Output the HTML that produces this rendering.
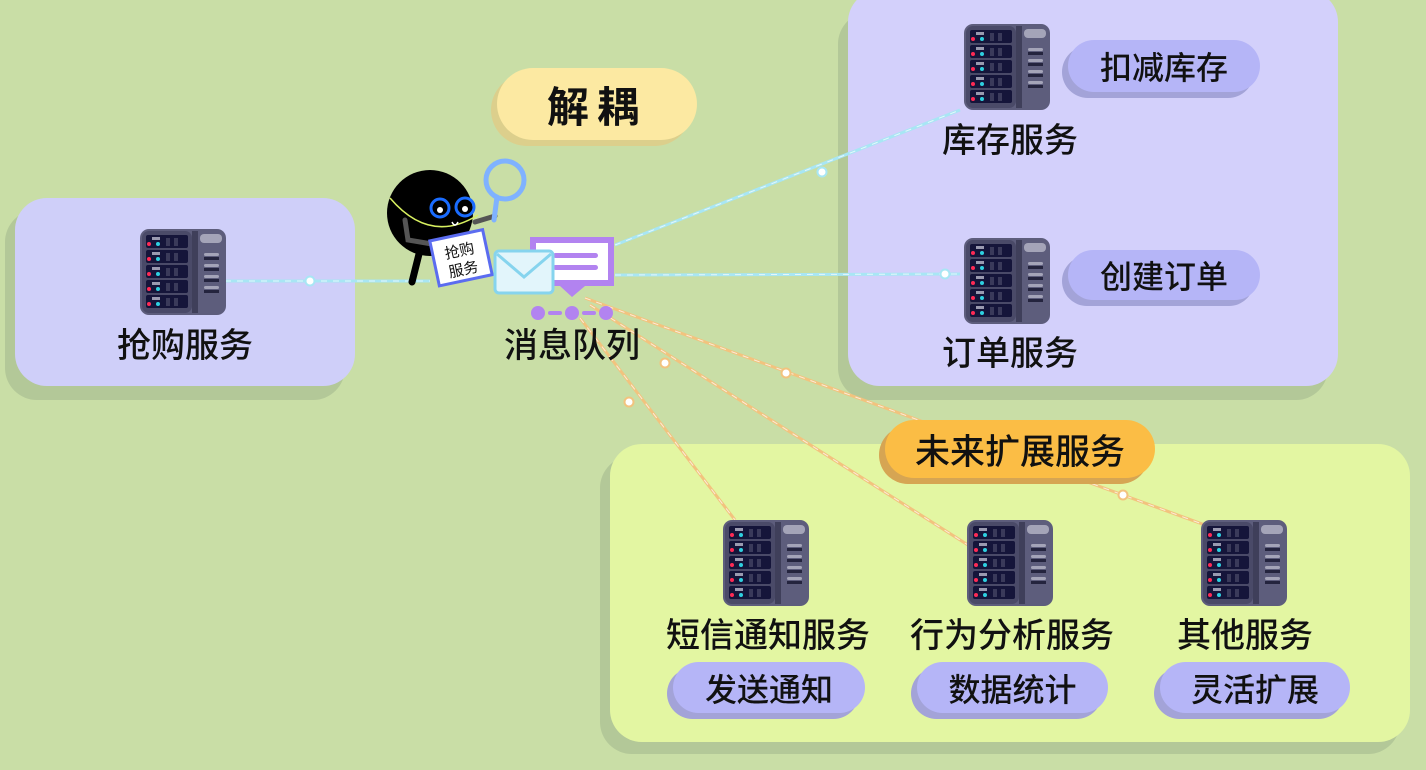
<!DOCTYPE html>
<html><head><meta charset="utf-8"><style>
body{margin:0;width:1426px;height:770px;overflow:hidden;background:#c9dea6;font-family:"Liberation Sans","Noto Sans CJK SC",sans-serif;}
.a{position:absolute}
.box{position:absolute;border-radius:32px}
.t{position:absolute;font-size:34px;font-weight:500;color:#111;transform:translateX(-50%);white-space:nowrap;line-height:1}
.pill{position:absolute;border-radius:26px;background:#b5b5f7;box-shadow:-6px 6px 0 #a3a3d8;display:flex;align-items:center;justify-content:center;font-size:32px;font-weight:500;color:#111}
</style></head><body>
<div class="box" style="left:5px;top:210px;width:340px;height:190px;background:#b3c898"></div>
<div class="box" style="left:15px;top:198px;width:340px;height:188px;background:#cfcff9"></div>
<div class="box" style="left:838px;top:12px;width:490px;height:388px;background:#b3c898"></div>
<div class="box" style="left:848px;top:-10px;width:490px;height:396px;background:#d3d0fb"></div>
<div class="box" style="left:600px;top:456px;width:800px;height:298px;background:#b3c898"></div>
<div class="box" style="left:610px;top:444px;width:800px;height:298px;background:#e3f6a2"></div>

<svg class="a" style="left:0;top:0" width="1426" height="770">
<defs>
<g id="srv">
<rect x="0" y="0" width="86" height="86" rx="9" fill="#5d5d7c"/>
<rect x="2" y="2" width="50" height="82" rx="7" fill="#4a4a68"/>
<rect x="52" y="2" width="6" height="82" fill="#3f3f5a"/>
<rect x="60" y="5" width="22" height="9" rx="4" fill="#a4a4b8"/>
<g fill="#a4a4b8"><rect x="64" y="24" width="15" height="3" rx="1.5"/><rect x="64" y="35" width="15" height="3" rx="1.5"/><rect x="64" y="46" width="15" height="3" rx="1.5"/><rect x="64" y="57" width="15" height="3" rx="1.5"/></g>
<g fill="#24243e"><rect x="64" y="28" width="15" height="3"/><rect x="64" y="39" width="15" height="3"/><rect x="64" y="50" width="15" height="3"/><rect x="64" y="61" width="15" height="3"/></g>
<g id="sl"><rect x="6" y="6" width="42" height="13" rx="2" fill="#15153a"/><rect x="12" y="8" width="8" height="3" fill="#9a9ab0"/><circle cx="9" cy="15" r="2" fill="#ff2a55"/><circle cx="18" cy="15" r="2" fill="#2ed0e0"/><rect x="26" y="9" width="4" height="8" fill="#3a3a5a"/><rect x="34" y="9" width="4" height="8" fill="#3a3a5a"/></g>
<use href="#sl" y="15"/><use href="#sl" y="30"/><use href="#sl" y="45"/><use href="#sl" y="60"/>
</g>
</defs>
<g stroke-width="3" fill="none">
<g stroke="#a8e6f4"><line x1="225" y1="281" x2="430" y2="281"/><line x1="615" y1="245" x2="960" y2="110"/><line x1="615" y1="275" x2="960" y2="274"/></g>
<g stroke="#f2c37e"><line x1="585" y1="298" x2="1205" y2="525"/><line x1="590" y1="305" x2="968" y2="545"/><line x1="580" y1="318" x2="735" y2="520"/></g>
<g stroke="#fff" stroke-width="1" stroke-dasharray="6 6" opacity="0.7"><line x1="225" y1="281" x2="430" y2="281"/><line x1="615" y1="245" x2="960" y2="110"/><line x1="615" y1="275" x2="960" y2="274"/><line x1="585" y1="298" x2="1205" y2="525"/><line x1="590" y1="305" x2="968" y2="545"/><line x1="580" y1="318" x2="735" y2="520"/></g>
</g>
<g fill="#fff"><circle cx="310" cy="281" r="4.5" stroke="#a8e6f4" stroke-width="2"/><circle cx="822" cy="172" r="4.5" stroke="#a8e6f4" stroke-width="2"/><circle cx="945" cy="274" r="4.5" stroke="#a8e6f4" stroke-width="2"/>
<circle cx="786" cy="373" r="4.5" stroke="#f2c37e" stroke-width="2"/><circle cx="1123" cy="495" r="4.5" stroke="#f2c37e" stroke-width="2"/><circle cx="665" cy="363" r="4.5" stroke="#f2c37e" stroke-width="2"/><circle cx="629" cy="402" r="4.5" stroke="#f2c37e" stroke-width="2"/></g>
<use href="#srv" x="964" y="24"/><use href="#srv" x="964" y="238"/><use href="#srv" x="140" y="229"/>
<use href="#srv" x="723" y="520"/><use href="#srv" x="967" y="520"/><use href="#srv" x="1201" y="520"/>
<!-- character -->
<circle cx="430" cy="213" r="43" fill="#000"/>
<path d="M420 250 L412 282 M445 255 L448 280" stroke="#000" stroke-width="7" stroke-linecap="round"/>
<path d="M405 220 L408 240 L438 245 M475 222 L495 216" stroke="#555" stroke-width="5" fill="none" stroke-linecap="round"/>
<path d="M390 198 Q430 245 478 215" stroke="#d8f060" stroke-width="1.5" fill="none"/>
<circle cx="440" cy="208" r="9" fill="none" stroke="#1a6cff" stroke-width="3"/><circle cx="465" cy="207" r="9" fill="none" stroke="#1a6cff" stroke-width="3"/>
<circle cx="440" cy="210" r="3" fill="#fff"/><circle cx="465" cy="209" r="3" fill="#fff"/>
<path d="M452 222 q3 6 6 0" stroke="#fff" stroke-width="1.5" fill="none"/>
<circle cx="505" cy="180" r="19" fill="none" stroke="#7fb2ff" stroke-width="5"/><line x1="497" y1="197" x2="494" y2="220" stroke="#7fb2ff" stroke-width="5" stroke-linecap="round"/>
<g transform="rotate(-12 460 258)"><rect x="434" y="235" width="54" height="46" fill="#fff" stroke="#5b6cf0" stroke-width="3"/>
<text x="461" y="256" font-size="15" text-anchor="middle" fill="#111" font-family="Noto Sans CJK SC">抢购</text><text x="461" y="275" font-size="15" text-anchor="middle" fill="#111" font-family="Noto Sans CJK SC">服务</text></g>
<!-- message icon -->
<path d="M530 237 H614 V286 H585 L572 297 L560 286 H530 Z" fill="#b283f0"/>
<rect x="536" y="243" width="72" height="37" fill="#fff"/>
<rect x="553" y="253" width="45" height="5" rx="2.5" fill="#b283f0"/><rect x="553" y="265" width="45" height="5" rx="2.5" fill="#b283f0"/>
<rect x="495" y="251" width="58" height="42" rx="4" fill="#e2f5fb" stroke="#86d4ee" stroke-width="3"/>
<path d="M497 254 L524 277 L551 254" fill="none" stroke="#86d4ee" stroke-width="3"/>
<g fill="#b283f0"><circle cx="538" cy="313" r="7"/><circle cx="572" cy="313" r="7"/><circle cx="606" cy="313" r="7"/><rect x="548" y="311" width="14" height="4" rx="2"/><rect x="582" y="311" width="14" height="4" rx="2"/></g>
</svg>

<div class="pill" style="left:497px;top:68px;width:200px;height:72px;border-radius:36px;background:#fce9a2;box-shadow:-6px 6px 0 #dccf8c;font-size:42px;font-weight:bold;letter-spacing:8px">解耦</div>
<div class="pill" style="left:1068px;top:40px;width:192px;height:52px">扣减库存</div>
<div class="pill" style="left:1068px;top:250px;width:192px;height:50px">创建订单</div>
<div class="pill" style="left:885px;top:420px;width:270px;height:58px;border-radius:29px;background:#fbbd45;box-shadow:-6px 6px 0 #d6a553;font-size:35px">未来扩展服务</div>
<div class="pill" style="left:673px;top:662px;width:192px;height:51px">发送通知</div>
<div class="pill" style="left:917px;top:662px;width:191px;height:51px">数据统计</div>
<div class="pill" style="left:1160px;top:662px;width:190px;height:51px">灵活扩展</div>

<div class="t" style="left:185px;top:329px">抢购服务</div>
<div class="t" style="left:572px;top:329px">消息队列</div>
<div class="t" style="left:1010px;top:124px">库存服务</div>
<div class="t" style="left:1010px;top:337px">订单服务</div>
<div class="t" style="left:768px;top:619px">短信通知服务</div>
<div class="t" style="left:1012px;top:619px">行为分析服务</div>
<div class="t" style="left:1245px;top:619px">其他服务</div>
</body></html>
